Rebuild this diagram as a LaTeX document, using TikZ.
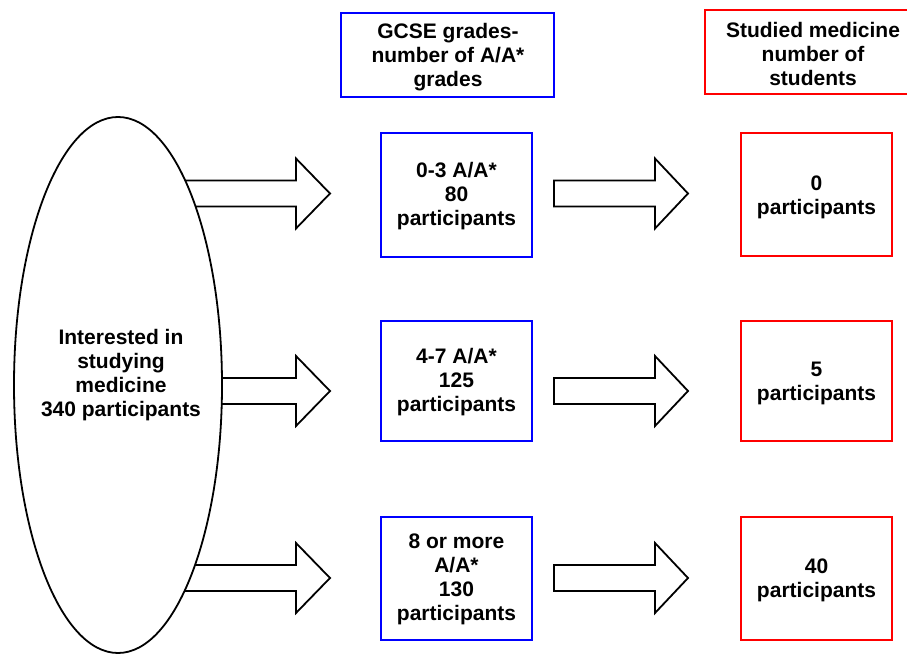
\documentclass[tikz,border=0pt]{standalone}
\usepackage{fontspec}
\setmainfont{Liberation Sans}
\usetikzlibrary{shapes.geometric}
\tikzset{
  lbl/.style={font=\fontsize{21}{24}\selectfont\bfseries, align=center, text=black},
  bluebox/.style={draw=blue, line width=2.5pt, fill=white, inner sep=0pt, lbl},
  redbox/.style={draw=red, line width=2.5pt, fill=white, inner sep=0pt, lbl},
  blockarr/.style={draw=black, line width=1.8pt, fill=white, line join=miter},
}
% block arrow: #1 = x start, #2 = head base x, #3 = tip x, #4 = y centre
\newcommand\blockarrow[4]{%
  \draw[blockarr] (#1,#4-13) -- (#2,#4-13) -- (#2,#4-35) -- (#3,#4) -- (#2,#4+35) -- (#2,#4+13) -- (#1,#4+13) -- cycle;}
\begin{document}
\begin{tikzpicture}[x=1pt,y=-1pt]
\useasboundingbox (0,0) rectangle (907,660);
\fill[white] (0,0) rectangle (907,660);
% left arrows (behind ellipse)
\blockarrow{150}{296}{330}{193.5}
\blockarrow{150}{296}{330}{391}
\blockarrow{150}{296}{330}{578}
% ellipse
\node[ellipse, draw=black, line width=1.8pt, fill=white, minimum width=208pt, minimum height=536pt, inner sep=0pt] (src) at (118,385) {};
\node[lbl] (srctxt) at (121,375) {Interested in\\studying\\medicine\\ 340 participants};
% headers
\node[draw=blue, line width=2.5pt, fill=white, minimum width=213pt, minimum height=84pt] (hgcse) at (447.5,55) {};
\node[lbl] (hgcsetxt) at (448,57) {GCSE grades-\\number of A/A*\\grades};
\node[draw=red, line width=2.5pt, fill=white, minimum width=216pt, minimum height=84pt] (hmed) at (813,52) {};
\node[lbl] (hmedtxt) at (813,54) {Studied medicine\\number of\\students};
% blue boxes
\node[bluebox, minimum width=151pt, minimum height=124pt, text depth=2pt] (g1) at (456.5,195) {0-3 A/A*\\80\\participants};
\node[bluebox, minimum width=151pt, minimum height=120pt, text depth=2pt] (g2) at (456.5,381) {4-7 A/A*\\125\\participants};
\node[bluebox, minimum width=151pt, minimum height=123pt, text depth=2pt] (g3) at (456.5,578.5) {8 or more\\A/A*\\130\\participants};
% red boxes
\node[redbox, minimum width=151pt, minimum height=123pt] (m1) at (816.5,194.5) {};
\node[lbl] (m1txt) at (816.5,197.5) {0\\participants};
\node[redbox, minimum width=151pt, minimum height=120pt] (m2) at (816.5,381) {};
\node[lbl] (m2txt) at (816.5,383) {5\\participants};
\node[redbox, minimum width=151pt, minimum height=123pt] (m3) at (816.5,578.5) {};
\node[lbl] (m3txt) at (816.5,580.5) {40\\participants};
% right arrows
\blockarrow{554}{655}{688}{193.5}
\blockarrow{554}{655}{688}{391}
\blockarrow{554}{655}{688}{578}
\end{tikzpicture}
\end{document}
